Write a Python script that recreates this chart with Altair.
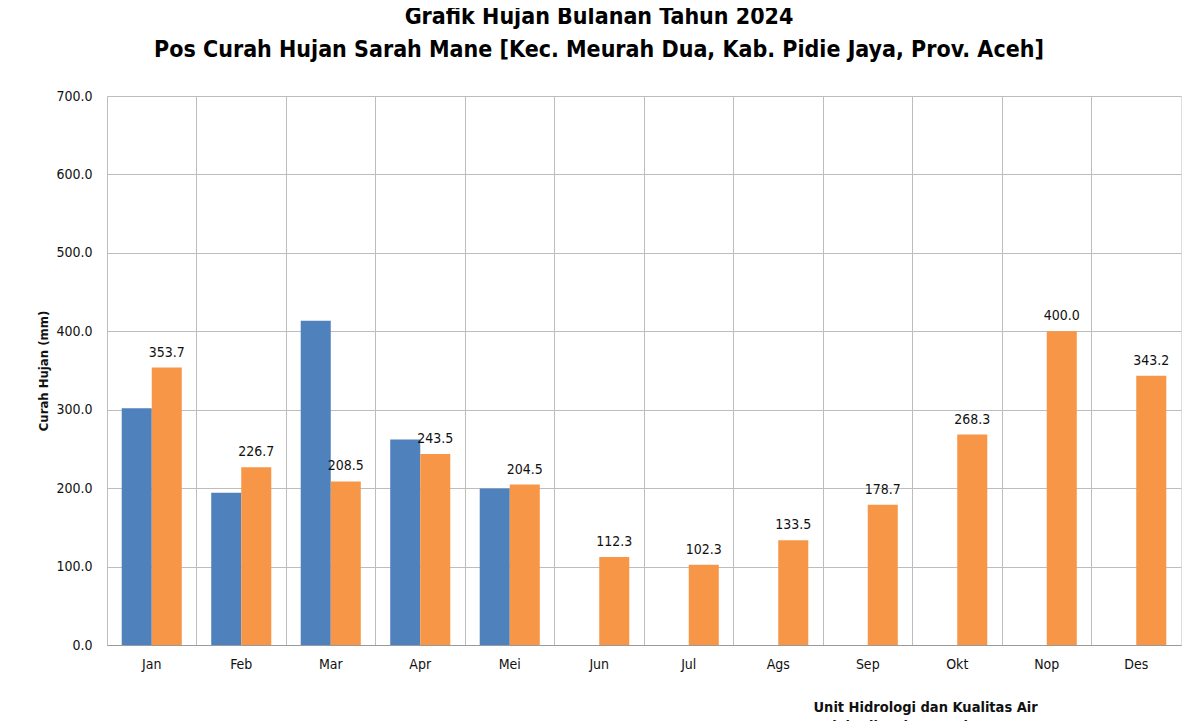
import altair as alt
import pandas as pd

months = ["Jan", "Feb", "Mar", "Apr", "Mei", "Jun", "Jul", "Ags", "Sep", "Okt", "Nop", "Des"]
hujan_2024 = [302.0, 194.0, 413.5, 262.0, 199.5, None, None, None, None, None, None, None]
rerata = [353.7, 226.7, 208.5, 243.5, 204.5, 112.3, 102.3, 133.5, 178.7, 268.3, 400.0, 343.2]
series = ["Tahun 2024", "Rata-rata"]
colors = ["#4F81BD", "#F79646"]

rows = []
for m, a, b in zip(months, hujan_2024, rerata):
    if a is not None:
        rows.append({"Bulan": m, "Seri": series[0], "Nilai": a})
    rows.append({"Bulan": m, "Seri": series[1], "Nilai": b})
df = pd.DataFrame(rows)

FONT = "DejaVu Sans Condensed, Liberation Sans, sans-serif"

x_enc = alt.X(
    "Bulan:N",
    sort=months,
    scale=alt.Scale(paddingInner=0, paddingOuter=0),
    axis=alt.Axis(
        title=["Unit Hidrologi dan Kualitas Air", "Balai Wilayah Sungai Sumatera I"],
        titleFont=FONT,
        titleFontSize=14.5,
        titleFontWeight="bold",
        titleColor="#111111",
        titleAlign="left",
        titleAnchor="start",
        titleX=706,
        titleY=66,
        titleBaseline="alphabetic",
        titleLineHeight=19,
        labelAngle=0,
        labelFont=FONT,
        labelFontSize=14,
        labelColor="#111111",
        labelPadding=12,
        ticks=False,
        domain=True,
        domainColor="#9a9a9a",
        grid=True,
        gridColor="#bdbdbd",
        bandPosition=0,
    ),
)

y_enc = alt.Y(
    "Nilai:Q",
    scale=alt.Scale(domain=[0, 700], nice=False),
    axis=alt.Axis(
        values=[0, 100, 200, 300, 400, 500, 600, 700],
        format=".1f",
        title="Curah Hujan (mm)",
        titleFont=FONT,
        titleFontSize=13,
        titleFontWeight="bold",
        titleColor="#111111",
        titlePadding=5,
        labelFont=FONT,
        labelFontSize=14,
        labelColor="#111111",
        labelPadding=15,
        ticks=False,
        domain=False,
        gridColor="#bdbdbd",
    ),
)

bars = alt.Chart(df).mark_bar().encode(
    x=x_enc,
    xOffset=alt.XOffset("Seri:N", sort=series, scale=alt.Scale(domain=series, paddingInner=0, paddingOuter=0.49)),
    y=y_enc,
    color=alt.Color("Seri:N", scale=alt.Scale(domain=series, range=colors), legend=None),
)

labels = alt.Chart(df).transform_filter(
    alt.datum.Seri == series[1]
).mark_text(
    font=FONT, fontSize=14, color="#111111", baseline="alphabetic", dy=-11
).encode(
    x=alt.X("Bulan:N", sort=months),
    xOffset=alt.XOffset("Seri:N", sort=series),
    y=alt.Y("Nilai:Q"),
    text=alt.Text("Nilai:Q", format=".1f"),
)

chart = alt.layer(bars, labels).properties(
    width=1074,
    height=549,
    autosize=alt.AutoSizeParams(type="none"),
    padding={"left": 99, "top": 88, "right": 10, "bottom": 95},
    title=alt.TitleParams(
        text=["Grafik Hujan Bulanan Tahun 2024", "Pos Curah Hujan Sarah Mane [Kec. Meurah Dua, Kab. Pidie Jaya, Prov. Aceh]"],
        font=FONT,
        fontSize=23,
        fontWeight="bold",
        color="#000000",
        anchor="middle",
        frame="group",
        dx=-45,
        offset=27,
        lineHeight=33,
    ),
).configure_view(
    stroke="#9a9a9a"
).configure(background="white")

chart.save("out.html", embed_options={"renderer": "svg", "actions": False})
